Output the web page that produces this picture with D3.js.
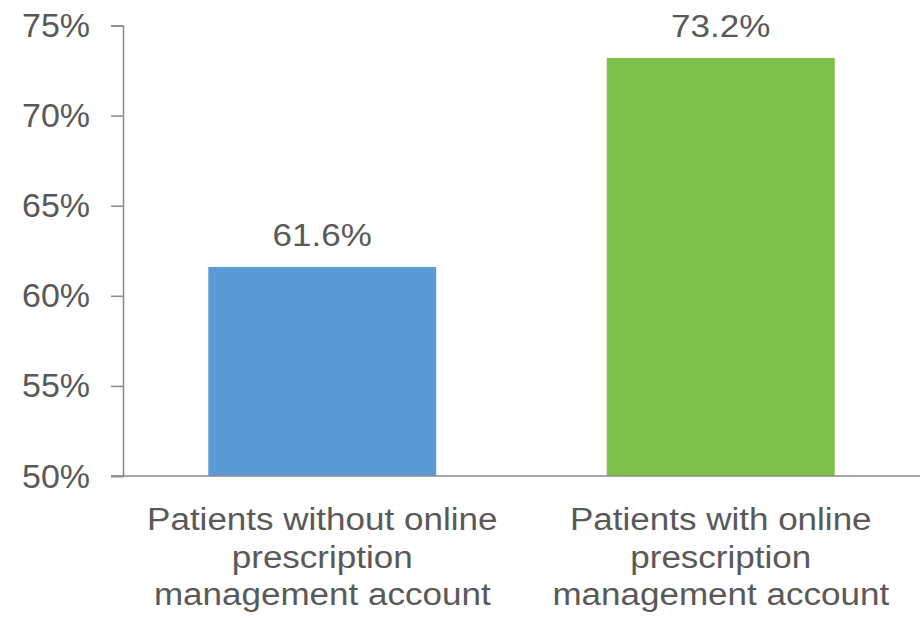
<!DOCTYPE html>
<html>
<head>
<meta charset="utf-8">
<script src="https://cdn.jsdelivr.net/npm/d3@7/dist/d3.min.js"></script>
<style>
  html, body { margin: 0; padding: 0; background: #fff; }
  svg { display: block; }
  text { font-family: "Liberation Sans", Arial, sans-serif; fill: #595959; }
</style>
</head>
<body>
<svg id="chart" width="920" height="621"></svg>
<script>
// Share of patients, by whether they hold an online prescription management account
const categories = [
  ["Patients without online", "prescription", "management account"],
  ["Patients with online", "prescription", "management account"]
];
const values = [61.6, 73.2];
const valueLabels = ["61.6%", "73.2%"];
const barColors = ["#5B9BD5", "#7DC14A"];
const yTicks = [50, 55, 60, 65, 70, 75];
const yTickLabels = ["50%", "55%", "60%", "65%", "70%", "75%"];

const svg = d3.select("#chart");
const plotLeft = 123, plotRight = 920, plotTop = 25.5, plotBottom = 476;
const stretch = 1.13; // text is drawn slightly wide

const x = d3.scaleBand()
  .domain(d3.range(categories.length))
  .range([plotLeft, plotRight])
  .paddingInner(0.428)
  .paddingOuter(0.214);

const y = d3.scaleLinear().domain([50, 75]).range([plotBottom, plotTop]);

// Bars
svg.append("g").selectAll("rect")
  .data(values)
  .join("rect")
  .attr("x", (d, i) => x(i))
  .attr("width", x.bandwidth())
  .attr("y", d => y(d))
  .attr("height", d => y(50) - y(d))
  .attr("fill", (d, i) => barColors[i]);

// Y axis
const yAxis = svg.append("g")
  .attr("transform", `translate(${plotLeft},0)`)
  .call(d3.axisLeft(y).tickValues(yTicks).tickSize(12).tickFormat((d, i) => yTickLabels[i]));
yAxis.select(".domain").attr("stroke", "#8a8a8a").attr("stroke-width", 1.5);
yAxis.selectAll(".tick line").attr("stroke", "#8a8a8a").attr("stroke-width", 1.5);
yAxis.selectAll(".tick text").remove();
yAxis.selectAll(".tick").append("text")
  .attr("transform", `translate(-33,11) scale(1.03,1)`)
  .attr("text-anchor", "end")
  .style("font-size", "33px")
  .text((d, i) => yTickLabels[i]);

// X axis line
svg.append("line")
  .attr("x1", plotLeft - 12).attr("x2", plotRight)
  .attr("y1", y(50)).attr("y2", y(50))
  .attr("stroke", "#8a8a8a").attr("stroke-width", 1.5);

// Value labels
svg.append("g").selectAll("text")
  .data(values)
  .join("text")
  .attr("transform", (d, i) => `translate(${x(i) + x.bandwidth() / 2},${y(d) - 21}) scale(${stretch},1)`)
  .attr("text-anchor", "middle")
  .style("font-size", "31px")
  .text((d, i) => valueLabels[i]);

// Category labels
const cat = svg.append("g").selectAll("g")
  .data(categories)
  .join("g")
  .attr("transform", (d, i) => `translate(${x(i) + x.bandwidth() / 2},0)`);
cat.selectAll("text")
  .data(d => d)
  .join("text")
  .attr("transform", (d, j) => `translate(0,${530 + j * 37.5}) scale(${stretch},1)`)
  .attr("text-anchor", "middle")
  .style("font-size", "31px")
  .text(d => d);
</script>
</body>
</html>
